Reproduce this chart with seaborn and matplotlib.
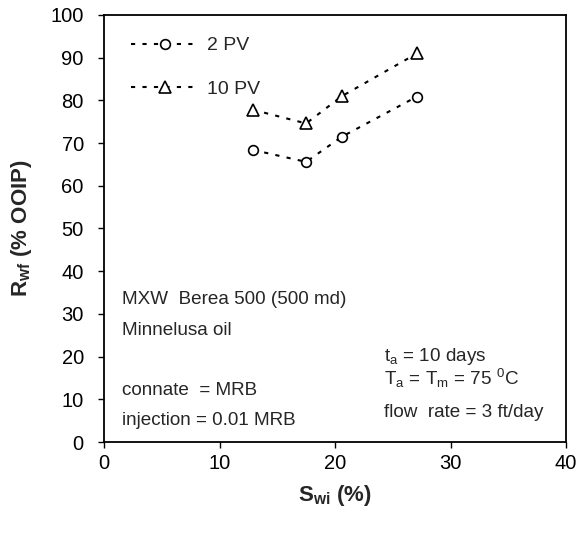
import matplotlib
matplotlib.use("Agg")
import matplotlib.pyplot as plt
import seaborn as sns
import pandas as pd

swi = [12.9, 17.5, 20.6, 27.1]
rwf_2pv = [68.4, 65.6, 71.5, 80.9]
rwf_10pv = [77.8, 74.6, 81.0, 91.0]
series_labels = ["2 PV", "10 PV"]

sns.set_style("ticks")
plt.rcParams['font.family'] = ['Liberation Sans', 'DejaVu Sans']
plt.rcParams['mathtext.fontset'] = 'custom'
plt.rcParams['mathtext.rm'] = 'Liberation Sans'
plt.rcParams['mathtext.it'] = 'Liberation Sans:italic'
plt.rcParams['mathtext.bf'] = 'Liberation Sans:bold'

fig = plt.figure(figsize=(5.82, 5.35), dpi=100)
ax = fig.add_axes([104/582, 1-442/535, (566-104)/582, (442-15)/535])

df2 = pd.DataFrame({"x": swi, "y": rwf_2pv})
df10 = pd.DataFrame({"x": swi, "y": rwf_10pv})
sns.lineplot(data=df2, x="x", y="y", ax=ax, color="black", marker="o", markersize=7,
             markerfacecolor="white", markeredgecolor="black", markeredgewidth=1.2,
             linewidth=1.5, dashes=False, label=series_labels[0])
sns.lineplot(data=df10, x="x", y="y", ax=ax, color="black", marker="^", markersize=8,
             markerfacecolor="white", markeredgecolor="black", markeredgewidth=1.2,
             linewidth=1.5, dashes=False, label=series_labels[1])
for ln in ax.get_lines():
    ln.set_linestyle((0, (2, 3.5)))

ax.set_xlim(0, 40)
ax.set_ylim(0, 100)
ax.set_xticks(range(0, 41, 10))
ax.set_yticks(range(0, 101, 10))
ax.tick_params(direction='out', length=4.5, width=1, labelsize=14.5, colors='black')
ax.tick_params(axis='y', pad=10)
ax.tick_params(axis='x', pad=4)
for s in ax.spines.values():
    s.set_linewidth(1.3)
    s.set_color('black')

ax.set_xlabel(r'$\mathbf{S_{wi}}$ (%)', fontsize=16, fontweight='bold', labelpad=7)
ax.set_ylabel(r'$\mathbf{R_{wf}}$ (% OOIP)', fontsize=16, fontweight='bold', labelpad=12)

leg = ax.legend(loc='upper left', bbox_to_anchor=(0.02, 0.99), frameon=False,
                handlelength=3.5, labelspacing=1.35, fontsize=14, handletextpad=0.4)

fs = 13.6
ax.text(1.6, 33.3, 'MXW  Berea 500 (500 md)', fontsize=fs, va='center')
ax.text(1.6, 26.0, 'Minnelusa oil', fontsize=fs, va='center')
ax.text(1.6, 12.0, 'connate  = MRB', fontsize=fs, va='center')
ax.text(1.6, 5.0, 'injection = 0.01 MRB', fontsize=fs, va='center')
ax.text(24.2, 20.0, r't$_\mathregular{a}$ = 10 days', fontsize=fs, va='center')
ax.text(24.2, 15.0, r'T$_\mathregular{a}$ = T$_\mathregular{m}$ = 75 $^\mathregular{0}$C', fontsize=fs, va='center')
ax.text(24.2, 6.8, 'flow  rate = 3 ft/day', fontsize=fs, va='center')

fig.savefig("out.png", dpi=100)
